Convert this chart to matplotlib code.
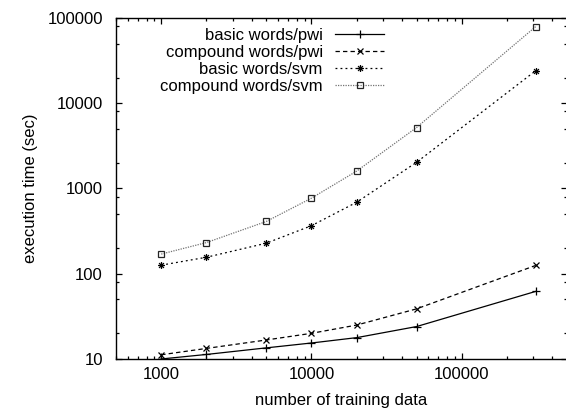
import matplotlib
matplotlib.use("Agg")
import matplotlib.pyplot as plt
from matplotlib.path import Path
from matplotlib.ticker import LogLocator, NullFormatter, FixedLocator

plt.rcParams['font.family'] = ['Liberation Sans', 'DejaVu Sans']

# training set sizes
n_train = [1000, 2000, 5000, 10000, 20000, 50000, 310000]

# execution times (sec)
basic_pwi = [10.0, 11.3, 13.5, 15.4, 17.8, 24.0, 62.0]
compound_pwi = [11.2, 13.3, 16.7, 20.0, 25.0, 38.7, 125.0]
basic_svm = [126.0, 156.0, 228.0, 366.0, 690.0, 2025.0, 24000.0]
compound_svm = [170.0, 232.0, 410.0, 770.0, 1600.0, 5180.0, 79000.0]

labels = ["basic words/pwi", "compound words/pwi",
          "basic words/svm", "compound words/svm"]

# gnuplot style asterisk: plus and cross together
star = Path([(-1, 0), (1, 0), (0, -1), (0, 1),
             (-0.7, -0.7), (0.7, 0.7), (-0.7, 0.7), (0.7, -0.7)],
            [Path.MOVETO, Path.LINETO] * 4)

fig = plt.figure(figsize=(5.66, 4.13), dpi=100)
ax = fig.add_axes([0.2049, 0.1308, 0.7965, 0.8257])

lw = 0.9
ax.plot(n_train, basic_pwi, color='black', lw=lw, linestyle='-',
        marker='+', ms=5.5, mew=0.9, label=labels[0])
ax.plot(n_train, compound_pwi, color='black', lw=lw, linestyle=(0, (3.5, 2.5)),
        marker='x', ms=4.5, mew=0.9, label=labels[1])
ax.plot(n_train, basic_svm, color='black', lw=lw, linestyle=(0, (1.5, 2.5)),
        marker=star, ms=5, mew=0.9, label=labels[2])
ax.plot(n_train, compound_svm, color='0.45', lw=lw, linestyle=(0, (1, 1)),
        marker='s', ms=4.5, mew=0.9, mfc='none', mec='0.15', label=labels[3])

ax.set_xscale('log')
ax.set_yscale('log')
ax.set_xlim(500, 500000)
ax.set_ylim(10, 100000)

ax.xaxis.set_major_locator(FixedLocator([1000, 10000, 100000]))
ax.xaxis.set_minor_locator(LogLocator(base=10, subs=[2, 3, 4, 5, 6, 7, 8, 9], numticks=20))
ax.yaxis.set_major_locator(FixedLocator([10, 100, 1000, 10000, 100000]))
ax.yaxis.set_minor_locator(LogLocator(base=10, subs=[2, 5, 8], numticks=20))
ax.xaxis.set_minor_formatter(NullFormatter())
ax.yaxis.set_minor_formatter(NullFormatter())
ax.set_xticklabels(['1000', '10000', '100000'])
ax.set_yticklabels(['10', '100', '1000', '10000', '100000'])

ax.tick_params(which='both', direction='in', top=True, right=True,
               width=0.9, color='black', labelsize=12)
ax.tick_params(which='major', length=4.5)
ax.tick_params(which='minor', length=2.5)
ax.tick_params(axis='y', which='major', pad=9.5)
ax.tick_params(axis='x', which='major', pad=5.5)
for sp in ax.spines.values():
    sp.set_linewidth(1.0)
    sp.set_color('black')

ax.set_xlabel('number of training data', fontsize=12, labelpad=8)
ax.set_ylabel('execution time (sec)', fontsize=12, labelpad=7)

ax.legend(loc='upper right', bbox_to_anchor=(0.616, 1.0), frameon=False,
          markerfirst=False, fontsize=12, handlelength=2.9, handletextpad=0.75,
          labelspacing=0.12, borderpad=0.4, borderaxespad=0.2)

fig.savefig('out.png', dpi=100)
